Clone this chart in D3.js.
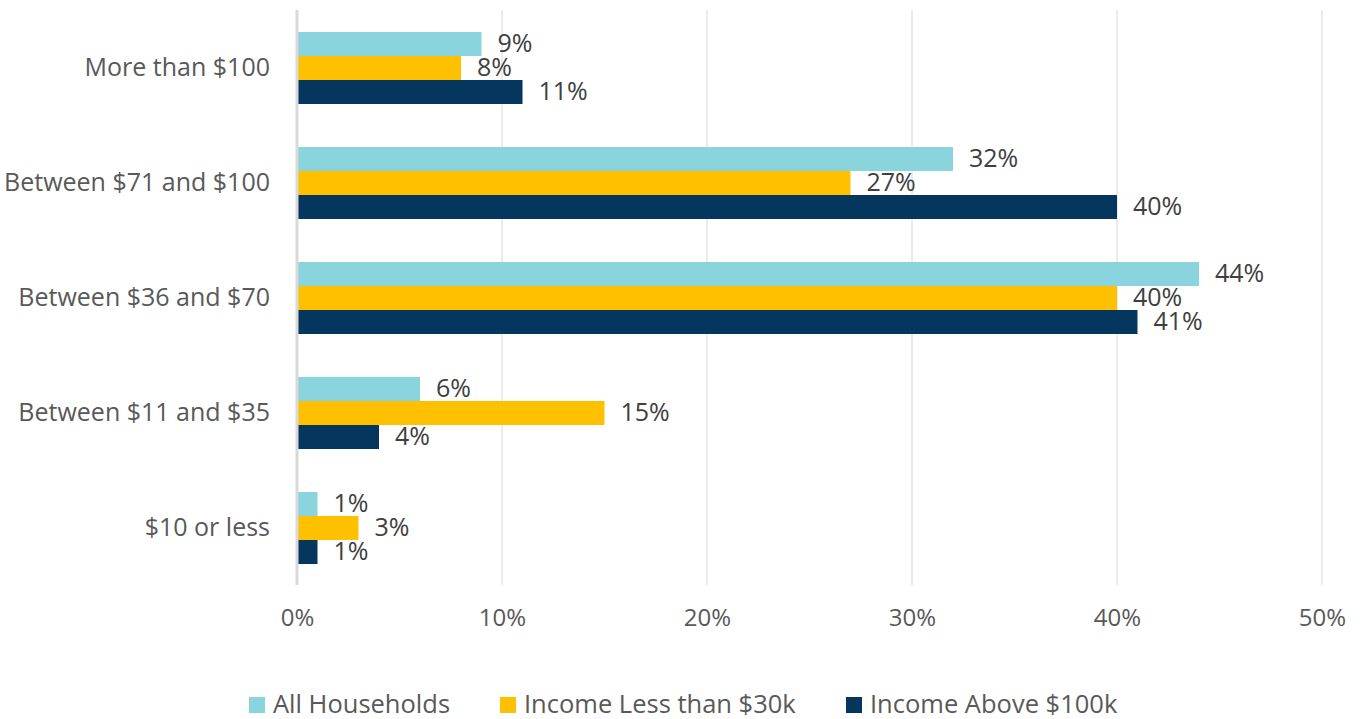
<!DOCTYPE html>
<html>
<head>
<meta charset="utf-8">
<script src="https://cdn.jsdelivr.net/npm/d3@7"></script>
<style>
  body { margin: 0; background: #fff; }
  svg text { font-family: "Open Sans", Lato, sans-serif; }
</style>
</head>
<body>
<div id="chart"></div>
<script>
var width = 1361;
var height = 719;

// data
var categories = ["More than $100", "Between $71 and $100", "Between $36 and $70", "Between $11 and $35", "$10 or less"];
var seriesNames = ["All Households", "Income Less than $30k", "Income Above $100k"];
var allHouseholds = [9, 32, 44, 6, 1];
var incomeBelow30k = [8, 27, 40, 15, 3];
var incomeAbove100k = [11, 40, 41, 4, 1];
var xTicks = [0, 10, 20, 30, 40, 50];
var colors = ["#8ad4de", "#ffc000", "#05365e"];

var seriesValues = [allHouseholds, incomeBelow30k, incomeAbove100k];
var rows = [];
categories.forEach(function (c, i) {
  seriesNames.forEach(function (s, j) {
    rows.push({ cat: c, series: s, idx: j, value: seriesValues[j][i] });
  });
});

var svg = d3.select("#chart").append("svg")
  .attr("width", width)
  .attr("height", height);

var x = d3.scaleLinear().domain([0, 50]).range([297, 1322]);
var y0 = d3.scaleBand().domain(categories).range([10.5, 585.5]);
var y1 = d3.scaleBand().domain(seriesNames).range([21.5, 93.5]);

// gridlines
svg.append("g")
  .selectAll("line")
  .data(xTicks.slice(1))
  .enter()
  .append("line")
  .attr("x1", function (d) { return x(d); })
  .attr("x2", function (d) { return x(d); })
  .attr("y1", 10)
  .attr("y2", 585)
  .attr("stroke", "#ebebeb")
  .attr("stroke-width", 2);

// bars
svg.append("g")
  .selectAll("rect")
  .data(rows)
  .enter()
  .append("rect")
  .attr("x", x(0))
  .attr("y", function (d) { return y0(d.cat) + y1(d.series); })
  .attr("width", function (d) { return x(d.value) - x(0); })
  .attr("height", y1.bandwidth())
  .attr("fill", function (d) { return colors[d.idx]; });

// zero axis line
svg.append("line")
  .attr("x1", x(0)).attr("x2", x(0))
  .attr("y1", 10).attr("y2", 585)
  .attr("stroke", "#d9d9d9")
  .attr("stroke-width", 3);

// value labels
svg.append("g")
  .selectAll("text")
  .data(rows)
  .enter()
  .append("text")
  .attr("x", function (d) { return x(d.value) + 16; })
  .attr("y", function (d) { return y0(d.cat) + y1(d.series) + y1.bandwidth() / 2 + 1; })
  .attr("dominant-baseline", "middle")
  .attr("font-size", 25)
  .attr("fill", "#404040")
  .text(function (d) { return d.value + "%"; });

// category labels
svg.append("g")
  .attr("transform", "translate(" + x(0) + ",0)")
  .call(d3.axisLeft(y0).tickSize(0).tickPadding(27))
  .call(function (g) { g.select(".domain").remove(); })
  .selectAll("text")
  .attr("font-size", 25)
  .attr("fill", "#595959");

// x axis labels
svg.append("g")
  .attr("transform", "translate(0,585)")
  .call(d3.axisBottom(x).tickValues(xTicks).tickSize(0).tickPadding(24)
    .tickFormat(function (d) { return d + "%"; }))
  .call(function (g) { g.select(".domain").remove(); })
  .selectAll("text")
  .attr("font-size", 24)
  .attr("fill", "#595959");

// legend
var legendX = [249, 500, 846];
var legend = svg.append("g")
  .selectAll("g")
  .data(seriesNames)
  .enter()
  .append("g")
  .attr("transform", function (d, i) { return "translate(" + legendX[i] + ",705)"; });

legend.append("rect")
  .attr("x", 0).attr("y", -8)
  .attr("width", 16).attr("height", 16)
  .attr("fill", function (d, i) { return colors[i]; });

legend.append("text")
  .attr("x", 24)
  .attr("y", 1)
  .attr("dominant-baseline", "middle")
  .attr("font-size", 25.5)
  .attr("fill", "#595959")
  .text(function (d) { return d; });
</script>
</body>
</html>
